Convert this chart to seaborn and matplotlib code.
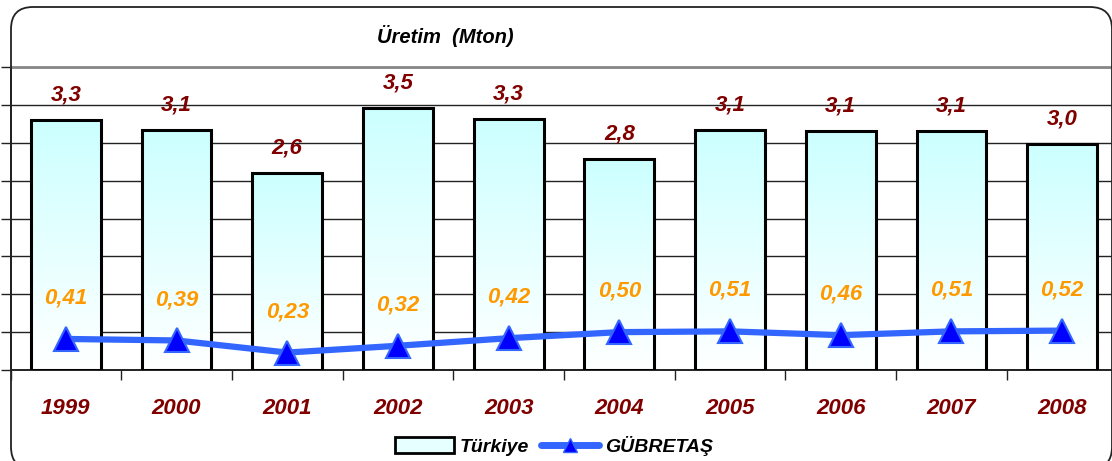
import matplotlib
matplotlib.use("Agg")
import matplotlib.pyplot as plt
import matplotlib.transforms as mtransforms
from matplotlib.patches import FancyBboxPatch, Patch
from matplotlib.lines import Line2D
import numpy as np
import pandas as pd
import seaborn as sns

# chart data
years = ["1999", "2000", "2001", "2002", "2003", "2004", "2005", "2006", "2007", "2008"]
turkiye = [3.3, 3.1, 2.6, 3.5, 3.3, 2.8, 3.1, 3.1, 3.1, 3.0]
turkiye_bar = [3.30, 3.17, 2.60, 3.46, 3.31, 2.78, 3.17, 3.16, 3.15, 2.98]
gubretas = [0.41, 0.39, 0.23, 0.32, 0.42, 0.50, 0.51, 0.46, 0.51, 0.52]

df = pd.DataFrame({"year": years, "turkiye": turkiye_bar, "gubretas": gubretas})

sns.set_theme(style="white")
plt.rcParams["font.family"] = ["Liberation Sans", "DejaVu Sans"]
plt.rcParams["text.color"] = "black"

W, H = 1112, 461
fig = plt.figure(figsize=(W / 100, H / 100), dpi=100)
ax = fig.add_axes([10.5 / W, (H - 370) / H, 1107 / W, 303 / H])

# rounded outer frame (pixel coords)
frame = FancyBboxPatch((11, -8), 1101, 462, boxstyle="round,pad=0,rounding_size=22",
                       transform=mtransforms.IdentityTransform(), facecolor="none",
                       edgecolor="#222222", linewidth=1.3, zorder=0)
fig.patches.append(frame)

sns.barplot(data=df, x="year", y="turkiye", ax=ax, width=0.63,
            facecolor="none", edgecolor="black", linewidth=2.2, zorder=3)

# gradient fill clipped to each bar
grad = np.linspace(0, 1, 256).reshape(-1, 1)
cmap = matplotlib.colors.LinearSegmentedColormap.from_list("cy", ["#FFFFFF", "#CCFFFF"])
for p in ax.patches:
    x0, y0 = p.get_x(), p.get_y()
    w, h = p.get_width(), p.get_height()
    im = ax.imshow(grad, cmap=cmap, extent=[x0, x0 + w, y0, y0 + h], origin="lower",
                   aspect="auto", zorder=2.5, interpolation="bicubic")
    im.set_clip_path(p)

ax.plot(np.arange(len(years)), gubretas, color="#3366FF", lw=4.5, zorder=5,
        marker="^", markersize=17, markerfacecolor="#0000FF",
        markeredgecolor="#3366FF", markeredgewidth=1.5)

for i, (v, lab) in enumerate(zip(turkiye_bar, turkiye)):
    ax.text(i, v + 0.33, f"{lab:.1f}".replace(".", ","), ha="center", va="center",
            color="#800000", fontsize=16, fontweight="bold", fontstyle="italic", zorder=6)
for i, v in enumerate(gubretas):
    ax.text(i, v + 0.54, f"{v:.2f}".replace(".", ","), ha="center", va="center",
            color="#FF9900", fontsize=16, fontweight="bold", fontstyle="italic", zorder=6)

ax.set_xlim(-0.5, len(years) - 0.5)
ax.set_ylim(0, 4)
ax.set_yticks(np.arange(0, 4.01, 0.5))
ax.set_yticklabels([])
ax.yaxis.grid(True, color="#222222", lw=1.0)
ax.set_axisbelow(True)
ax.tick_params(axis="y", left=True, length=7, width=1, color="#222222")
ax.set_xticks(np.arange(len(years)))
ax.set_xticklabels(years)
ax.set_xticks(np.arange(len(years) + 1) - 0.5, minor=True)
ax.tick_params(axis="x", which="major", length=0, pad=20, labelsize=16,
               labelcolor="#800000")
ax.tick_params(axis="x", which="minor", bottom=True, length=7, width=1, color="#222222")
for t in ax.get_xticklabels():
    t.set_fontweight("bold")
    t.set_fontstyle("italic")
ax.set_xlabel("")
ax.set_ylabel("")
ax.patch.set_alpha(0)
for s in ["left", "bottom"]:
    ax.spines[s].set_color("#222222")
    ax.spines[s].set_linewidth(1.4)
ax.spines["right"].set_visible(False)
ax.spines["top"].set_color("#888888")
ax.spines["top"].set_linewidth(2)

fig.text(445 / W, 1 - 36 / H, "Üretim  (Mton)", ha="center", va="center",
         fontsize=14.5, fontweight="bold", fontstyle="italic", color="black")

handles = [Patch(facecolor="#E6FFFF", edgecolor="black", linewidth=2),
           Line2D([0], [0], color="#3366FF", lw=5, marker="^", markersize=10,
                  markerfacecolor="#0000FF", markeredgecolor="#3366FF")]
leg = fig.legend(handles, ["Türkiye", "GÜBRETAŞ"], loc="center", bbox_to_anchor=(554 / W, 1 - 446 / H),
                 ncol=2, frameon=False, handlelength=3, handleheight=0.9, handletextpad=0.3,
                 columnspacing=0.6, prop={"weight": "bold", "style": "italic", "size": 14})
for t in leg.get_texts():
    t.set_color("black")

fig.savefig("out.png", dpi=100)
